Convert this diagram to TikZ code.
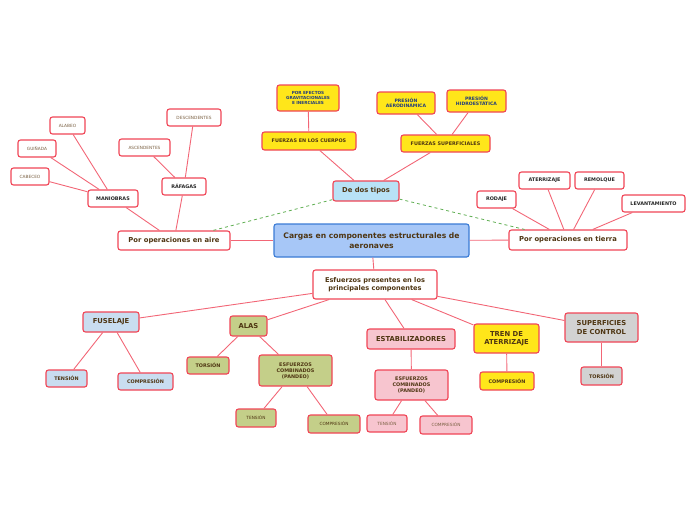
\documentclass[tikz,border=0pt]{standalone}
\usepackage{fontspec}
\setmainfont{DejaVu Sans}
\usepackage{tikz}
\definecolor{edge}{HTML}{F04556}
\definecolor{linkred}{HTML}{F26676}
\definecolor{relgreen}{HTML}{5FAE52}
\definecolor{ink}{HTML}{4E3512}
\definecolor{dark}{HTML}{262626}
\definecolor{soft}{HTML}{7A6042}
\definecolor{navy}{HTML}{223C7C}
\definecolor{skyblue}{HTML}{A7C7F7}
\definecolor{deepblue}{HTML}{3A7BD5}
\definecolor{cyan}{HTML}{B8E2F6}
\definecolor{yel}{HTML}{FFE61A}
\definecolor{fusblue}{HTML}{C9DDF0}
\definecolor{olive}{HTML}{C4CF89}
\definecolor{rose}{HTML}{F7C5CF}
\definecolor{grey}{HTML}{D2D2D2}
\tikzset{link/.style={line width=0.9pt,draw=linkred},
  rel/.style={dashed,line width=0.8pt,draw=relgreen},
  box/.style={rounded corners=2.5pt,draw=edge,line width=1.1pt,fill=white,align=center,inner sep=1pt,text=ink},
  thin/.style={box,font=\fontsize{4.3}{5.3}\selectfont,text=soft,minimum height=17pt},
  leaf/.style={box,font=\fontsize{4.9}{6}\selectfont\bfseries,minimum height=17pt},
  part/.style={box,font=\fontsize{6.8}{8.6}\selectfont\bfseries},
  title/.style={box,fill=skyblue,draw=deepblue,font=\fontsize{7.6}{10}\selectfont\bfseries}}
\begin{document}
\begin{tikzpicture}[x=1pt,y=-1pt]
\useasboundingbox (0,0) rectangle (696,520);
\node[title,minimum width=195pt,minimum height=33pt] (cargas) at (371.5,240.5) {Cargas en componentes estructurales de\\aeronaves};
% upper branch
\node[part,fill=cyan,minimum width=66pt,minimum height=20pt] (tipos) at (366,191) {De dos tipos};
\node[leaf,fill=yel,minimum width=94pt,minimum height=18pt] (cuerpos) at (309,141) {FUERZAS EN LOS CUERPOS};
\node[leaf,fill=yel,text=navy,font=\fontsize{4.2}{4.8}\selectfont\bfseries,minimum width=62pt,minimum height=26pt] (efectos) at (308,98) {POR EFECTOS\\GRAVITACIONALES\\E INERCIALES};
\node[leaf,fill=yel,minimum width=89pt] (superf) at (445.5,143.5) {FUERZAS SUPERFICIALES};
\node[leaf,fill=yel,text=navy,font=\fontsize{4.6}{5.6}\selectfont\bfseries,minimum width=58pt,minimum height=22pt] (aerod) at (406,103) {PRESIÓN\\AERODINÁMICA};
\node[leaf,fill=yel,text=navy,font=\fontsize{4.6}{5.6}\selectfont\bfseries,minimum width=59pt,minimum height=22pt] (hidro) at (476.5,101) {PRESIÓN\\HIDROESTÁTICA};
% left branch
\node[part,minimum width=112pt,minimum height=19pt] (aire) at (174,240.5) {Por operaciones en aire};
\node[leaf,text=dark,minimum width=50pt] (maniobras) at (113,198.5) {MANIOBRAS};
\node[thin,minimum width=35pt] (alabeo) at (67.5,125.5) {ALABEO};
\node[thin,minimum width=38pt] (guinada) at (37,148.5) {GUIÑADA};
\node[thin,minimum width=38pt] (cabeceo) at (30,176.5) {CABECEO};
\node[leaf,text=dark,minimum width=44pt] (rafagas) at (184,186.5) {RÁFAGAS};
\node[thin,minimum width=51pt] (ascend) at (144.5,147.5) {ASCENDENTES};
\node[thin,minimum width=54pt] (descend) at (194,117.5) {DESCENDENTES};
% right branch
\node[part,minimum width=118pt,minimum height=20pt] (tierra) at (568,240) {Por operaciones en tierra};
\node[leaf,text=dark,minimum width=39pt] (rodaje) at (496.5,199.5) {RODAJE};
\node[leaf,text=dark,minimum width=51pt] (aterrizaje) at (544.5,180.5) {ATERRIZAJE};
\node[leaf,text=dark,minimum width=49pt] (remolque) at (599.5,180.5) {REMOLQUE};
\node[leaf,text=dark,minimum width=63pt] (levant) at (653.5,203.5) {LEVANTAMIENTO};
% lower branch
\node[part,font=\fontsize{6.6}{8.4}\selectfont\bfseries,minimum width=124pt,minimum height=29pt] (esfuerzos) at (375,284.5) {Esfuerzos presentes en los\\principales componentes};
\node[part,fill=fusblue,minimum width=56pt,minimum height=20pt] (fuselaje) at (111,322) {FUSELAJE};
\node[leaf,fill=fusblue,minimum width=41pt] (fusTension) at (66.5,378.5) {TENSIÓN};
\node[leaf,fill=fusblue,minimum width=55pt] (fusCompresion) at (145.5,381.5) {COMPRESIÓN};
\node[part,fill=olive,minimum width=37pt,minimum height=20pt] (alas) at (248.5,326) {ALAS};
\node[leaf,fill=olive,minimum width=42pt] (alasTorsion) at (208,365.5) {TORSIÓN};
\node[leaf,fill=olive,minimum width=73pt,minimum height=31pt] (alasComb) at (295.5,370.5) {ESFUERZOS\\COMBINADOS\\(PANDEO)};
\node[thin,fill=olive,text=ink,minimum width=40pt,minimum height=18pt] (alasTension) at (256,418) {TENSIÓN};
\node[thin,fill=olive,text=ink,minimum width=52pt,minimum height=18pt] (alasCompresion) at (334,424) {COMPRESIÓN};
\node[part,fill=rose,minimum width=88pt,minimum height=20pt] (estab) at (411,339) {ESTABILIZADORES};
\node[leaf,fill=rose,minimum width=73pt,minimum height=30pt] (estabComb) at (411.5,385) {ESFUERZOS\\COMBINADOS\\(PANDEO)};
\node[thin,fill=rose,minimum width=40pt] (estabTension) at (387,423.5) {TENSIÓN};
\node[thin,fill=rose,minimum width=52pt,minimum height=18pt] (estabCompresion) at (446,425) {COMPRESIÓN};
\node[part,fill=yel,minimum width=65pt,minimum height=29pt] (tren) at (506.5,338.5) {TREN DE\\ATERRIZAJE};
\node[leaf,fill=yel,minimum width=54pt,minimum height=18pt] (trenCompresion) at (507,381) {COMPRESIÓN};
\node[part,fill=grey,minimum width=73pt,minimum height=29pt] (control) at (601.5,327.5) {SUPERFICIES\\DE CONTROL};
\node[leaf,fill=grey,minimum width=41pt,minimum height=18pt] (controlTorsion) at (601.5,376) {TORSIÓN};
% connectors
\draw[link] (cargas) -- (aire);
\draw[link] (cargas) -- (tierra);
\draw[link] (cargas) -- (esfuerzos);
\draw[rel] (tipos) -- (aire);
\draw[rel] (tipos) -- (tierra);
\draw[link] (tipos) -- (cuerpos);
\draw[link] (cuerpos) -- (efectos);
\draw[link] (tipos) -- (superf);
\draw[link] (superf) -- (aerod);
\draw[link] (superf) -- (hidro);
\draw[link] (aire) -- (maniobras);
\draw[link] (maniobras) -- (alabeo);
\draw[link] (maniobras) -- (guinada);
\draw[link] (maniobras) -- (cabeceo);
\draw[link] (aire) -- (rafagas);
\draw[link] (rafagas) -- (ascend);
\draw[link] (rafagas) -- (descend);
\draw[link] (tierra) -- (rodaje);
\draw[link] (tierra) -- (aterrizaje);
\draw[link] (tierra) -- (remolque);
\draw[link] (tierra) -- (levant);
\draw[link] (esfuerzos) -- (fuselaje);
\draw[link] (esfuerzos) -- (alas);
\draw[link] (esfuerzos) -- (estab);
\draw[link] (esfuerzos) -- (tren);
\draw[link] (esfuerzos) -- (control);
\draw[link] (fuselaje) -- (fusTension);
\draw[link] (fuselaje) -- (fusCompresion);
\draw[link] (alas) -- (alasTorsion);
\draw[link] (alas) -- (alasComb);
\draw[link] (alasComb) -- (alasTension);
\draw[link] (alasComb) -- (alasCompresion);
\draw[link] (estab) -- (estabComb);
\draw[link] (estabComb) -- (estabTension);
\draw[link] (estabComb) -- (estabCompresion);
\draw[link] (tren) -- (trenCompresion);
\draw[link] (control) -- (controlTorsion);
\end{tikzpicture}
\end{document}
